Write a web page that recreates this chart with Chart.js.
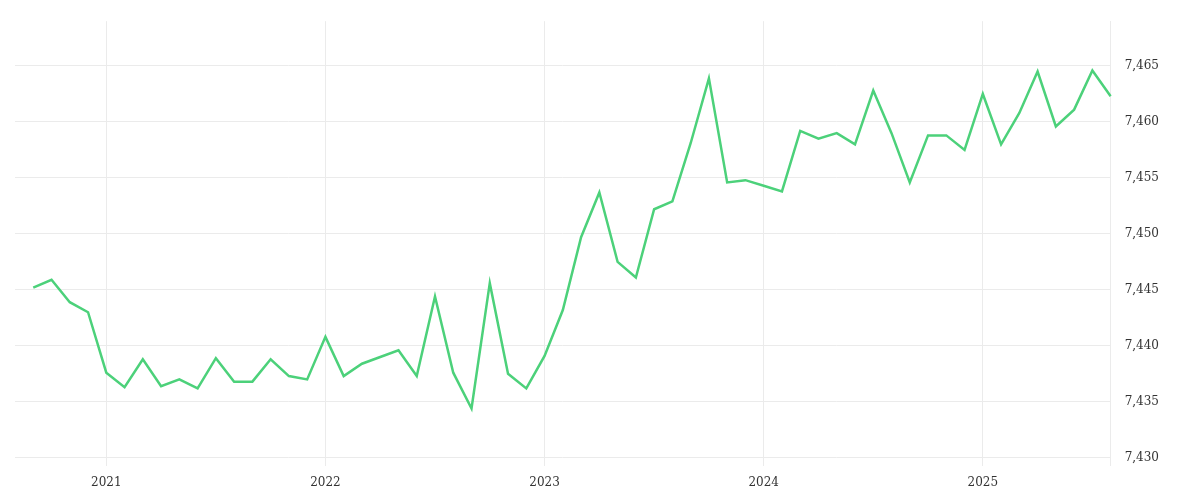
<!DOCTYPE html>
<html>
<head>
<meta charset="utf-8">
<script src="https://cdn.jsdelivr.net/npm/chart.js@4"></script>
<style>
  html, body { margin: 0; padding: 0; background: #fff; }
  #wrap { width: 1200px; height: 500px; }
</style>
</head>
<body>
<div id="wrap"><canvas id="chart"></canvas></div>
<script>
// monthly, Aug 2020 (empty lead-in) .. Aug 2025
const months = [];
for (let y = 2020; y <= 2025; y++) {
  for (let m = 1; m <= 12; m++) {
    if ((y === 2020 && m < 8) || (y === 2025 && m > 8)) continue;
    months.push(y + '-' + String(m).padStart(2, '0'));
  }
}

const rates = [
  null,
  7.4452, 7.4459, 7.4439, 7.4430,
  7.4376, 7.4363, 7.4388, 7.4364, 7.4370, 7.4362, 7.4389, 7.4368, 7.4368, 7.4388, 7.4373, 7.4370,
  7.4408, 7.4373, 7.4384, 7.4390, 7.4396, 7.4373, 7.4444, 7.4376, 7.4344, 7.4456, 7.4375, 7.4362,
  7.4391, 7.4432, 7.4497, 7.4537, 7.4475, 7.4461, 7.4522, 7.4529, 7.4581, 7.4639, 7.4546, 7.4548,
  7.4543, 7.4538, 7.4592, 7.4585, 7.4590, 7.4580, 7.4628, 7.4590, 7.4546, 7.4588, 7.4588, 7.4575,
  7.4625, 7.4580, 7.4608, 7.4645, 7.4596, 7.4611, 7.4646, 7.4623
];

const yTicks = [7.430, 7.435, 7.440, 7.445, 7.450, 7.455, 7.460, 7.465];

const isJan = i => months[i] && months[i].endsWith('-01');

new Chart(document.getElementById('chart'), {
  type: 'line',
  data: {
    labels: months,
    datasets: [{
      data: rates,
      borderColor: '#4cd17a',
      borderWidth: 2.5,
      pointRadius: 0,
      tension: 0,
      fill: false
    }]
  },
  options: {
    responsive: true,
    maintainAspectRatio: false,
    animation: false,
    layout: { padding: { left: 15, top: 3, right: 27, bottom: 0 } },
    plugins: { legend: { display: false }, tooltip: { enabled: false } },
    scales: {
      x: {
        offset: false,
        border: { display: false },
        grid: {
          color: ctx => isJan(ctx.index) ? '#ebebeb' : 'rgba(0,0,0,0)',
          drawTicks: false
        },
        ticks: {
          autoSkip: false,
          maxRotation: 0,
          padding: 10,
          color: '#333',
          font: { family: 'DejaVu Serif', size: 12 },
          callback: (v, i) => isJan(i) ? months[i].slice(0, 4) : ''
        }
      },
      y: {
        position: 'right',
        min: 7.4293,
        max: 7.469,
        border: { display: true, color: '#ebebeb' },
        afterBuildTicks: axis => { axis.ticks = yTicks.map(v => ({ value: v })); },
        grid: { color: '#ebebeb', drawTicks: false },
        ticks: {
          padding: 14,
          color: '#333',
          font: { family: 'DejaVu Serif', size: 12 },
          callback: v => v.toFixed(3).replace('.', ',')
        }
      }
    }
  }
});
</script>
</body>
</html>
